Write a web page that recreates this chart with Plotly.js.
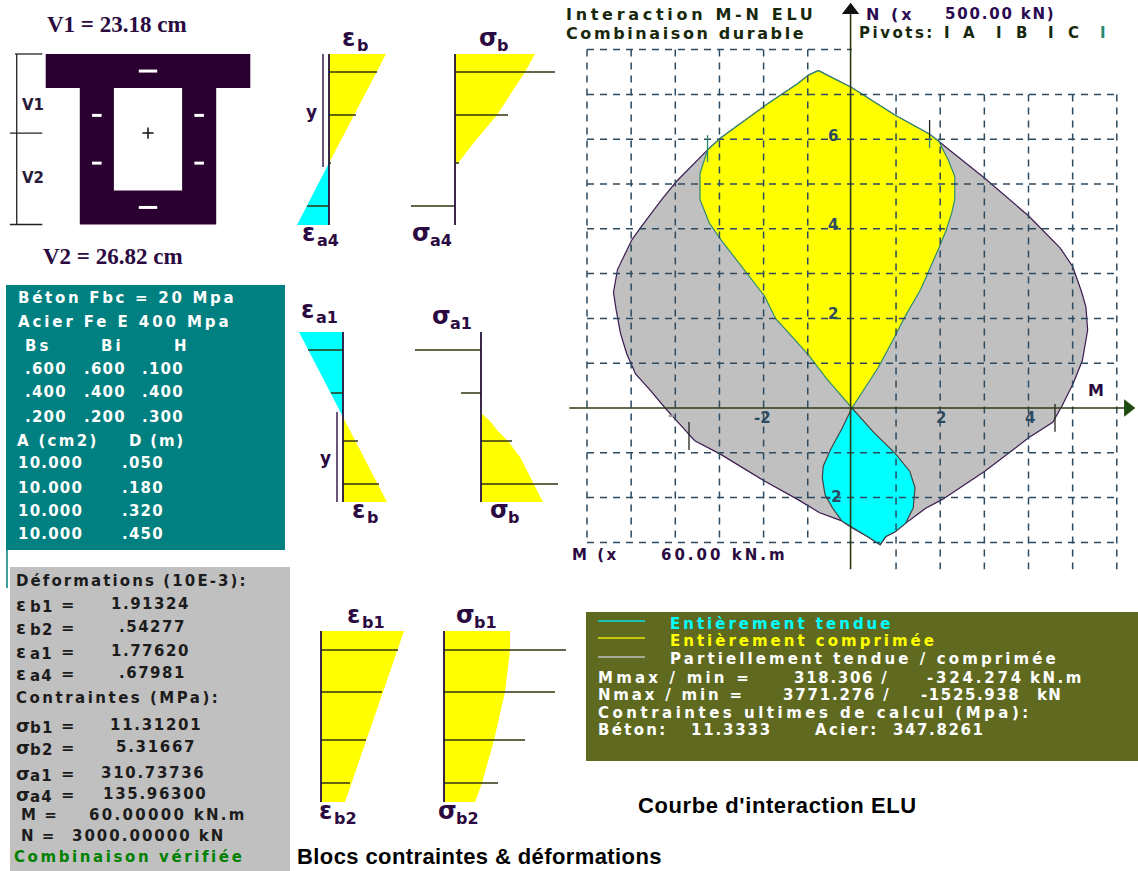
<!DOCTYPE html>
<html><head><meta charset="utf-8">
<script src="https://cdn.plot.ly/plotly-3.0.1.min.js"></script>
<style>html,body{margin:0;padding:0;background:#fff}#g{width:1138px;height:871px}</style>
</head><body><div id="g"></div>
<script>
// ---- interaction curve, M in units of 60 kN.m, N in units of 500 kN
const outerM=[-0.76,-0.98,-1.23,-1.56,-1.98,-2.98,-3.27,-3.98,-4.31,-4.77,-4.98,-5.31,-5.40,-5.34,-5.24,-5.1,-4.9,-4.56,-4.23,-3.9,-3.56,-2.98,-1.98,-1.23,-0.73,-0.23,0,0.35,0.64,0.77,0.97,1.22,1.68,2.05,3.01,4.01,4.55,4.76,5.01,5.22,5.34,5.30,5.20,5.0,4.72,4.01,3.01,1.97,1.76,0.97,0,-0.76];
const outerN=[7.53,7.43,7.24,7.02,6.74,6.02,5.76,5.05,4.65,4.05,3.76,3.09,2.58,2.19,1.66,1.21,0.76,0.39,0,-0.36,-0.73,-1.03,-1.63,-2.04,-2.34,-2.52,-2.67,-2.87,-3.05,-2.87,-2.77,-2.57,-2.23,-2.04,-1.41,-0.66,-0.32,0.05,0.54,1.06,1.74,2.26,2.6,3.16,3.57,4.28,5.13,5.95,6.11,6.54,7.15,7.53];
const yellowM=[-0.76,0,0.97,1.76,1.97,2.18,2.33,2.33,2.26,2.14,1.97,1.76,1.56,1.18,0.97,0.6,0,-0.57,-0.98,-1.73,-1.98,-2.94,-3.23,-3.44,-3.44,-3.27,-2.98,-1.98,-1.56,-1.23,-0.98,-0.76];
const yellowN=[7.53,7.15,6.54,6.11,5.95,5.54,5.17,4.65,4.35,3.98,3.57,3.09,2.65,2,1.59,0.91,0,0.65,1.18,2,2.5,3.72,4.13,4.65,5.24,5.76,6.02,6.74,7.02,7.24,7.43,7.53];
const cyanM=[0,0.5,0.97,1.31,1.43,1.39,1.22,0.97,0.77,0.64,0.35,0,-0.23,-0.44,-0.61,-0.67,-0.65,-0.48,-0.23,0];
const cyanN=[0,-0.55,-1,-1.41,-1.78,-2.23,-2.57,-2.77,-2.87,-3.05,-2.87,-2.67,-2.52,-2.23,-1.93,-1.56,-1.3,-0.92,-0.47,0];
const gridM=[-6,-5,-4,-3,-2,-1,1,2,3,4,5,6];
const gridN=[7,6,5,4,3,2,1,-1,-2,-3];
const pivotTealM=[-3.27,1.76], pivotTealLo=[5.49,5.8], pivotTealHi=[6.09,6.02];
const pivotDarkM=[1.76,-3.69,4.6], pivotDarkLo=[6.02,-0.94,-0.53], pivotDarkHi=[6.43,-0.31,0.09];
// ---- section (metres)
const flangeX=[-0.3,0.3,0.3,0.2,0.2,-0.2,-0.2,-0.3,-0.3], flangeY=[0,0,0.1,0.1,0.5,0.5,0.1,0.1,0];
const holeX=[-0.1,0.1,0.1,-0.1,-0.1], holeY=[0.1,0.1,0.4,0.4,0.1];
const barDepth=[0.05,0.18,0.32,0.45];
const V1=0.2318, V2=0.2682;
// ---- stress / strain blocks: polygons and fibres (page px)
const aStrainYellowX=[329,386,329,329], aStrainYellowY=[54,54,163,54];
const aStrainCyanX=[329,297,329,329], aStrainCyanY=[163,225,225,163];
const aStressYellowX=[455,535,525,507,497,476,458,455,455], aStressYellowY=[54,54,72,100,115,140,163,163,54];
const cStrainCyanX=[343,299,343,343], cStrainCyanY=[332,332,417,332];
const cStrainYellowX=[343,387,343,343], cStrainYellowY=[417,502,502,417];
const cStressYellowX=[481,490,497,508,520,534,538,543,481,481], cStressYellowY=[413,421,430,441,457,484,493,502,502,413];
const eStrainX=[321,404,345,321,321], eStrainY=[631,631,802,802,631];
const eStressX=[444,510,510,505,494,482,475,444,444], eStressY=[631,631,650,692,740,783,802,802,631];
const bands=[
 {base:329,y:[72,115,163,206],tip:[377,356,331,307]},
 {base:455,y:[72,115,163,206],tip:[555,508,459,411]},
 {base:343,y:[350,393,441,484],tip:[308,331,358,379]},
 {base:481,y:[350,393,441,484],tip:[415,461,512,558]},
 {base:321,y:[650,692,740,783],tip:[398,382,366,350]},
 {base:444,y:[650,692,740,783],tip:[566,555,525,498]}];
const axisLines=[{x:329,y:[54,225]},{x:455,y:[54,225]},{x:343,y:[332,502]},{x:481,y:[332,502]},{x:321,y:[631,802]},{x:444,y:[631,802]}];
const brackets=[{x:323,y:[54,167]},{x:337,y:[412,502]}];
// ---- tables
const tableBs=['.600','.400','.200'], tableBi=['.600','.400','.200'], tableH=['.100','.400','.300'];
const tableA=['10.000','10.000','10.000','10.000'], tableD=['.050','.180','.320','.450'];
const defLabels=[['ε','b1'],['ε','b2'],['ε','a1'],['ε','a4']], defValues=['1.91324','.54277','1.77620','.67981'];
const strLabels=[['σ','b1'],['σ','b2'],['σ','a1'],['σ','a4']], strValues=['11.31201','5.31667','310.73736','135.96300'];

const PX={x0:851.9,ux:44.15,y0:408,uy:44.8};
const SEC={x0:148,y0:54,u:341};
const annos=[];
function t(x,y,text,o={}){
  const ls=o.ls===undefined?1.2:o.ls;
  const inner=ls?`<span style="letter-spacing:${ls}px">${text}</span>`:text;
  annos.push({x,y,xref:'x',yref:'y',text:inner,showarrow:false,xanchor:o.a||'left',yanchor:'middle',align:'left',borderpad:0,
    font:{family:o.f||'DejaVu Sans',size:o.s||15,color:o.c||'#fff',weight:o.w===undefined?700:o.w}});
}
const traces=[];
function poly(x,y,fill,line,ax,lw){traces.push({x,y,xaxis:ax||'x',yaxis:ax?ax.replace('x','y'):'y',type:'scatter',mode:'lines',fill:'toself',fillcolor:fill,hoverinfo:'skip',line:{color:line||fill,width:line?(lw||1):0}});}
function segs(list,color,w,ax,dash){const x=[],y=[];list.forEach(s=>{x.push(s[0],s[2],null);y.push(s[1],s[3],null);});
  traces.push({x,y,xaxis:ax||'x',yaxis:ax?ax.replace('x','y'):'y',type:'scatter',mode:'lines',hoverinfo:'skip',line:{color,width:w,dash:dash||'solid'}});}

// backgrounds
poly([6,285,285,6,6],[285,285,550,550,285],'#008080');
poly([10,290,290,10,10],[567,567,871,871,567],'#c0c0c0');
poly([586,1138,1138,586,586],[612,612,761,761,612],'#5f6a20');
segs([[7,550,7,588]],'#008080',1.5);

// section, in metres
poly(flangeX,flangeY,'#2a0030',null,'x3');
poly(holeX,holeY,'#ffffff',null,'x3');
const barSegs=[];
barDepth.forEach((d,i)=>{ if(i==0||i==3){barSegs.push([-0.027,d,0.027,d]);} else {barSegs.push([-0.164,d,-0.136,d]);barSegs.push([0.136,d,0.164,d]);}});
segs(barSegs,'#ffffff',3,'x3');
traces.push({x:[0],y:[V1],xaxis:'x3',yaxis:'y3',type:'scatter',mode:'markers',hoverinfo:'skip',marker:{symbol:'cross-thin',size:8,line:{color:'#111',width:1.5}}});
segs([[-0.385,0,-0.385,V1+V2],[-0.39,0,-0.31,0],[-0.405,V1,-0.31,V1],[-0.405,V1+V2,-0.31,V1+V2]],'#222',1.3,'x3');

// stress / strain blocks
poly(aStrainYellowX,aStrainYellowY,'#ffff00');poly(aStrainCyanX,aStrainCyanY,'#00ffff');poly(aStressYellowX,aStressYellowY,'#ffff00');
poly(cStrainCyanX,cStrainCyanY,'#00ffff');poly(cStrainYellowX,cStrainYellowY,'#ffff00');poly(cStressYellowX,cStressYellowY,'#ffff00');
poly(eStrainX,eStrainY,'#ffff00');poly(eStressX,eStressY,'#ffff00');
bands.forEach(b=>segs(b.y.map((y,i)=>[b.base,y,b.tip[i],y]),'#2e3410',1.5));
segs(axisLines.map(a=>[a.x,a.y[0],a.x,a.y[1]]),'#24103a',1.8);
segs(brackets.map(a=>[a.x,a.y[0],a.x,a.y[1]]),'#3a1a50',1.5);

// interaction diagram
poly(outerM,outerN,'#c0c0c0','#3a1a50','x2',1.2);
poly(yellowM,yellowN,'#ffff00','#2f8a70','x2',1.2);
poly(cyanM,cyanN,'#00ffff','#444444','x2',1.2);
const gs=[];
gridN.forEach(n=>gs.push([-6,n,6,n]));
gs.push([-6,8,0,8]);
gridM.forEach(m=>gs.push(m<0?[m,8,m,-3]:[m,7,m,-3.6]));
segs(gs,'#2c4a60',1.5,'x2','7px,6px');
segs(pivotTealM.map((m,i)=>[m,pivotTealLo[i],m,pivotTealHi[i]]),'#2a8a70',1.3,'x2');
segs(pivotDarkM.map((m,i)=>[m,pivotDarkLo[i],m,pivotDarkHi[i]]),'#222',1.3,'x2');
segs([[-6.4,0,6.2,0],[-0.03,-3.6,-0.03,8.8]],'#2b3a14',1.6,'x2');
traces.push({x:[6.25],y:[0],xaxis:'x2',yaxis:'y2',type:'scatter',mode:'markers',hoverinfo:'skip',marker:{symbol:'triangle-right',size:15,color:'#1f4a10'}});
traces.push({x:[-0.03],y:[8.88],xaxis:'x2',yaxis:'y2',type:'scatter',mode:'markers',hoverinfo:'skip',marker:{symbol:'triangle-up',size:15,color:'#111'}});

// ---- text
const P='#2a0a40';
t(46,24,'V1 = 23.18 cm',{f:'Liberation Serif',s:23,c:P,ls:0});
t(42,256,'V2 = 26.82 cm',{f:'Liberation Serif',s:23,c:P,ls:0});
t(21,105,'V1',{s:15,c:'#2a1a3a',ls:0});t(21,178,'V2',{s:15,c:'#2a1a3a',ls:0});
t(17,298,'Béton Fbc = 20 Mpa',{ls:2.7});t(17,322,'Acier Fe E 400 Mpa',{ls:2.9});
t(24,346,'Bs',{ls:3});t(100,346,'Bi',{ls:3});t(173,346,'H',{ls:0});
const rowY=[369,392,417];
tableBs.forEach((v,i)=>{t(24,rowY[i],v);t(83,rowY[i],tableBi[i]);t(141,rowY[i],tableH[i]);});
t(16,441,'A (cm2)',{ls:2.3});t(128,441,'D (m)',{ls:1.8});
const rowY2=[463,488,511,534];
tableA.forEach((v,i)=>{t(17,rowY2[i],v);t(121,rowY2[i],tableD[i]);});

const G='#1c1c1c';
t(15,581,'Déformations (10E-3):',{c:G,ls:2.1});
const defY=[604,627,651,673], defX=[110,118,110,118];
const lab=(l,y)=>{t(15,y,l[0],{c:G,ls:0,s:18});t(29,y+3,l[1],{c:G,ls:1.2,s:15});t(60,y,'=',{c:G,ls:0,s:16});};
defLabels.forEach((l,i)=>{lab(l,defY[i]);t(defX[i],defY[i],defValues[i],{c:G,ls:1.5});});
t(15,698,'Contraintes (MPa):',{c:G,ls:2.5});
const strY=[725,747,773,794], strX=[109,115,100,102];
strLabels.forEach((l,i)=>{lab(l,strY[i]);t(strX[i],strY[i],strValues[i],{c:G,ls:1.7});});
t(20,815,'M =',{c:G,ls:1.5});t(88,815,'60.00000 kN.m',{c:G,ls:2.3});
t(20,836,'N =',{c:G,ls:1.5});t(71,836,'3000.00000 kN',{c:G,ls:2});
t(13,857,'Combinaison vérifiée',{c:'#008000',ls:2.6});

const gl=(g,s,x,y)=>{t(x,y,g,{c:P,ls:0,s:24});t(x+(g==='ε'?15:18),y+7,s,{c:P,ls:0,s:16});};
gl('ε','b',341,38);gl('σ','b',478,38);gl('ε','a4',301,233);gl('σ','a4',411,233);
gl('ε','a1',300,310);gl('σ','a1',431,316);gl('ε','b',351,510);gl('σ','b',489,510);
gl('ε','b1',346,615);gl('σ','b1',455,615);gl('ε','b2',318,811);gl('σ','b2',437,811);
t(305,112,'y',{c:P,s:17,ls:0});t(319,458,'y',{c:P,s:17,ls:0});

const D='#18280c';
t(565,14,'Interaction M-N ELU',{c:D,s:16,ls:3.7});t(565,33,'Combinaison durable',{c:D,s:16,ls:2.6});
t(865,14,'N (x',{c:'#2a0a50',s:16,ls:3});t(944,14,'500.00 kN)',{c:'#2a0a50',ls:1.8});
t(858,33,'Pivots:',{c:D,ls:2.5});
[['I',943,D],['A',962,D],['I',995,D],['B',1015,D],['I',1047,D],['C',1067,D],['I',1099,'#2a8a70']].forEach(p=>t(p[1],33,p[0],{c:p[2],ls:0}));
const axC='#2c4a60';
t(833,136,'6',{c:axC,a:'center',ls:0});t(833,225,'4',{c:axC,a:'center',ls:0});t(833,314,'2',{c:axC,a:'center',ls:0});t(833,497,'-2',{c:axC,a:'center',ls:0});
t(762,418,'-2',{c:axC,a:'center',ls:0});t(941,418,'2',{c:axC,a:'center',ls:0});t(1030,418,'4',{c:axC,a:'center',ls:0});t(671,415,'-',{c:'#999',a:'center',ls:0});
t(1096,390,'M',{c:P,a:'center',ls:0,s:16});
t(571,555,'M (x',{c:P,ls:2.5});t(660,555,'60.00 kN.m',{c:P,ls:3});

segs([[598,621,645,621]],'#00e0e0',1.5);segs([[598,638,645,638]],'#e6e600',1.5);segs([[598,657,645,657]],'#c0c0c0',1.5);
t(669,624,'Entièrement tendue',{c:'#00ffff',ls:3});
t(669,641,'Entièrement comprimée',{c:'#ffff00',ls:3});
t(669,659,'Partiellement tendue / comprimée',{ls:3.1});
t(597,678,'Mmax / min =',{ls:3.2});t(793,678,'318.306 /',{ls:1.7});t(926,678,'-324.274',{ls:2.8});t(1029,678,'kN.m',{ls:2.5});
t(597,695,'Nmax / min =',{ls:2.8});t(782,695,'3771.276 /',{ls:1.8});t(920,695,'-1525.938',{ls:1.6});t(1036,695,'kN',{ls:1.2});
t(597,713,'Contraintes ultimes de calcul (Mpa):',{ls:3.5});
t(597,730,'Béton:',{ls:2.3});t(690,730,'11.3333',{ls:1.8});t(814,730,'Acier:',{ls:2.4});t(892,730,'347.8261',{ls:1.6});

t(637,805,"Courbe d'interaction ELU",{c:'#000',f:'Liberation Sans',s:22,ls:.6});
t(296,856,'Blocs contraintes &amp; déformations',{c:'#000',f:'Liberation Sans',s:22,ls:.4});

const hide={visible:false,fixedrange:true};
const layout={width:1138,height:871,margin:{l:0,r:0,t:0,b:0},paper_bgcolor:'#fff',plot_bgcolor:'#fff',showlegend:false,annotations:annos,
 xaxis:{...hide,range:[0,1138],domain:[0,1]},yaxis:{...hide,range:[871,0],domain:[0,1]},
 xaxis2:{...hide,overlaying:'x',range:[-PX.x0/PX.ux,(1138-PX.x0)/PX.ux]},
 yaxis2:{...hide,overlaying:'y',range:[(PX.y0-871)/PX.uy,PX.y0/PX.uy]},
 xaxis3:{...hide,overlaying:'x',range:[-SEC.x0/SEC.u,(1138-SEC.x0)/SEC.u]},
 yaxis3:{...hide,overlaying:'y',range:[(871-SEC.y0)/SEC.u,-SEC.y0/SEC.u]}};
Plotly.newPlot('g',traces,layout,{staticPlot:true,displayModeBar:false});
</script></body></html>
